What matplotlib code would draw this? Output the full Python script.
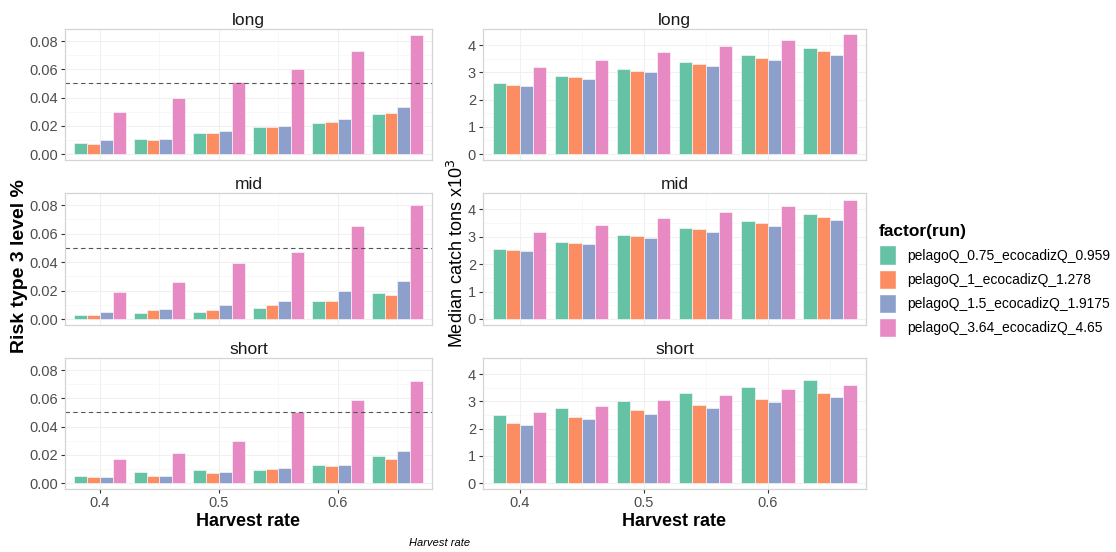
import matplotlib.pyplot as plt
import matplotlib.patches as mpatches
import numpy as np

plt.rcParams['font.family'] = ['Liberation Sans', 'DejaVu Sans']

harvest = [0.40, 0.45, 0.50, 0.55, 0.60, 0.65]
runs = ["pelagoQ_0.75_ecocadizQ_0.959", "pelagoQ_1_ecocadizQ_1.278",
        "pelagoQ_1.5_ecocadizQ_1.9175", "pelagoQ_3.64_ecocadizQ_4.65"]
colors = ["#66C2A5", "#FC8D62", "#8DA0CB", "#E78AC3"]
terms = ["long", "mid", "short"]

# risk type 3, one list per run, for each term
risk_long = [[0.008, 0.011, 0.015, 0.019, 0.022, 0.028],
             [0.007, 0.010, 0.015, 0.019, 0.023, 0.029],
             [0.010, 0.011, 0.016, 0.020, 0.025, 0.033],
             [0.030, 0.040, 0.051, 0.060, 0.073, 0.084]]
risk_mid = [[0.003, 0.004, 0.005, 0.008, 0.013, 0.018],
            [0.003, 0.006, 0.006, 0.010, 0.013, 0.017],
            [0.005, 0.007, 0.010, 0.013, 0.020, 0.027],
            [0.019, 0.026, 0.039, 0.047, 0.065, 0.080]]
risk_short = [[0.005, 0.008, 0.009, 0.009, 0.013, 0.019],
              [0.004, 0.005, 0.007, 0.010, 0.012, 0.017],
              [0.004, 0.005, 0.008, 0.011, 0.013, 0.023],
              [0.017, 0.021, 0.030, 0.050, 0.059, 0.072]]

# median catch (tons x10^3)
catch_long = [[2.59, 2.86, 3.13, 3.39, 3.63, 3.88],
              [2.54, 2.81, 3.06, 3.31, 3.54, 3.77],
              [2.51, 2.76, 3.00, 3.23, 3.45, 3.65],
              [3.20, 3.47, 3.73, 3.98, 4.18, 4.39]]
catch_mid = [[2.55, 2.82, 3.07, 3.33, 3.57, 3.83],
             [2.51, 2.77, 3.02, 3.26, 3.49, 3.71],
             [2.46, 2.72, 2.94, 3.17, 3.38, 3.59],
             [3.17, 3.44, 3.67, 3.91, 4.13, 4.33]]
catch_short = [[2.48, 2.75, 3.02, 3.29, 3.54, 3.78],
               [2.20, 2.43, 2.67, 2.87, 3.08, 3.29],
               [2.13, 2.35, 2.54, 2.75, 2.96, 3.14],
               [2.61, 2.83, 3.05, 3.24, 3.44, 3.60]]

risk = [risk_long, risk_mid, risk_short]
catch = [catch_long, catch_mid, catch_short]

W, H = 1116, 552
fig = plt.figure(figsize=(W / 100, H / 100), dpi=100)
fig.patch.set_facecolor("white")


def px_axes(left, top, width, height):
    return fig.add_axes([left / W, 1 - (top + height) / H, width / W, height / H])


def style(ax, bottom):
    for s in ax.spines.values():
        s.set_color("#D4D4D4")
        s.set_linewidth(0.9)
    ax.set_axisbelow(True)
    ax.grid(True, which="major", color="#F0F0F0", linewidth=0.8)
    ax.set_xticks([0.4, 0.5, 0.6])
    ax.set_xticks([0.45, 0.55, 0.65], minor=True)
    ax.grid(True, which="minor", color="#F6F6F6", linewidth=0.5)
    ax.tick_params(axis="both", which="major", colors="#333333", labelcolor="#4D4D4D",
                   labelsize=10.5, length=3, width=0.8, pad=2)
    ax.tick_params(which="minor", length=0)
    if bottom:
        ax.set_xticklabels(["0.4", "0.5", "0.6"])
    else:
        ax.tick_params(axis="x", which="major", length=0, labelbottom=False)


def draw_bars(ax, series):
    group = 0.043
    bw = group / len(series)
    x = np.array(harvest)
    for i, vals in enumerate(series):
        ax.bar(x - group / 2 + bw * (i + 0.5), vals, width=bw, color=colors[i],
               edgecolor="white", linewidth=0.4)


tops = [29, 193, 358]
heights = [131, 132, 131]

for r in range(3):
    bottom = r == 2
    # left column: risk
    ax = px_axes(65, tops[r], 367, heights[r])
    draw_bars(ax, risk[r])
    ax.axhline(0.05, color="#555555", linestyle=(0, (4, 3)), linewidth=0.8)
    ax.set_yticks([0.0, 0.02, 0.04, 0.06, 0.08])
    ax.set_yticklabels(["0.00", "0.02", "0.04", "0.06", "0.08"])
    ax.set_yticks([0.01, 0.03, 0.05, 0.07], minor=True)
    style(ax, bottom)
    ax.set_xlim(0.3706, 0.679)
    ax.set_ylim(-0.0042, 0.0885)
    ax.set_title(terms[r], fontsize=12.5, pad=3, color="#1A1A1A")

    # right column: catch
    ax = px_axes(483, tops[r], 383, heights[r])
    draw_bars(ax, catch[r])
    ax.set_yticks([0, 1, 2, 3, 4])
    ax.set_yticks([0.5, 1.5, 2.5, 3.5], minor=True)
    style(ax, bottom)
    ax.set_xlim(0.3706, 0.679)
    ax.set_ylim(-0.22, 4.59)
    ax.set_title(terms[r], fontsize=12.5, pad=3, color="#1A1A1A")

fig.text(20 / W, 1 - 266 / H, "Risk type 3 level %", rotation=90, ha="center", va="center",
         fontsize=14, fontweight="bold")
fig.text(457 / W, 1 - 253 / H, "Median catch tons x10$^3$", rotation=90, ha="center",
         va="center", fontsize=13)
fig.text(248 / W, 1 - 521 / H, "Harvest rate", ha="center", va="center", fontsize=13,
         fontweight="bold")
fig.text(674 / W, 1 - 521 / H, "Harvest rate", ha="center", va="center", fontsize=13,
         fontweight="bold")
fig.text(440 / W, 1 - 543 / H, "Harvest rate", ha="center", va="center", fontsize=8,
         style="italic")

handles = [mpatches.Patch(facecolor=c, edgecolor="white", label=l) for c, l in zip(colors, runs)]
leg = fig.legend(handles=handles, loc="upper left", bbox_to_anchor=(873 / W, 1 - 218 / H),
                 frameon=False, title="factor(run)", fontsize=10, handlelength=1.25,
                 handleheight=1.75, handletextpad=0.8, labelspacing=0.35, borderaxespad=0)
leg.get_title().set_fontweight("bold")
leg.get_title().set_fontsize(12.5)
leg._legend_box.align = "left"
leg._legend_box.sep = 5

fig.savefig("out.png", dpi=100)
